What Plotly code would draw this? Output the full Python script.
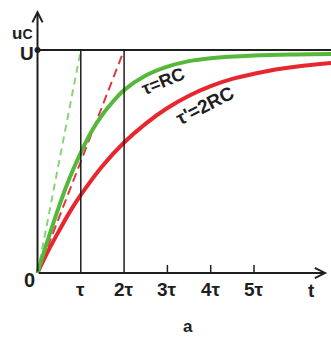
import plotly.graph_objects as go

# ---- data, time in units of tau, voltage in units of U ----
green_t = [0, 0.25, 0.5, 0.75, 1.0, 1.25, 1.5, 1.75, 2.0, 2.5, 3.0, 3.5, 4.0, 5.0, 6.0, 6.8]
green_u = [0, 0.155, 0.30, 0.43, 0.54, 0.635, 0.71, 0.77, 0.82, 0.885, 0.925, 0.95, 0.963, 0.975, 0.98, 0.982]

red_t = [0, 0.25, 0.5, 0.75, 1.0, 1.5, 2.0, 2.5, 3.0, 3.5, 4.0, 4.5, 5.0, 5.5, 6.0, 6.8]
red_u = [0, 0.10, 0.19, 0.275, 0.35, 0.48, 0.585, 0.67, 0.74, 0.795, 0.838, 0.87, 0.893, 0.912, 0.926, 0.942]

green_tangent_t = [0, 1]
green_tangent_u = [0, 1]
red_tangent_t = [0, 2]
red_tangent_u = [0, 1]

tick_vals = [1, 2, 3, 4, 5]
tick_labels = ["τ", "2τ", "3τ", "4τ", "5τ"]
guide_vals = [1, 2]          # full vertical lines at tau and 2 tau
small_tick_vals = [3, 4, 5]  # short ticks
U_level = 1.0

GREEN = "#55b83a"
GREEN_D = "#8cd27a"
RED = "#e8262f"
RED_D = "#dc3a48"
INK = "#1e1e1e"
FONT = "Liberation Sans"

X_MIN, X_MAX = -0.866, 6.778
Y_MIN, Y_MAX = -0.287, 1.224

fig = go.Figure()

# dashed tangents
fig.add_trace(go.Scatter(x=green_tangent_t, y=green_tangent_u, mode="lines",
                         line=dict(color=GREEN_D, width=2, dash="7px,5px")))
fig.add_trace(go.Scatter(x=red_tangent_t, y=red_tangent_u, mode="lines",
                         line=dict(color=RED_D, width=2, dash="9px,5px")))
# curves
fig.add_trace(go.Scatter(x=red_t, y=red_u, mode="lines", line=dict(color=RED, width=4, shape="spline")))
fig.add_trace(go.Scatter(x=green_t, y=green_u, mode="lines", line=dict(color=GREEN, width=4, shape="spline")))

# U level line
fig.add_trace(go.Scatter(x=[0, X_MAX], y=[U_level, U_level], mode="lines", line=dict(color=INK, width=2)))
# vertical guides
for v in guide_vals:
    fig.add_trace(go.Scatter(x=[v, v], y=[0, U_level], mode="lines", line=dict(color=INK, width=1.5)))
for v in small_tick_vals:
    fig.add_trace(go.Scatter(x=[v, v], y=[0, 0.036], mode="lines", line=dict(color=INK, width=1.5)))
# dot at U on the axis
fig.add_trace(go.Scatter(x=[0], y=[U_level], mode="markers", marker=dict(color=INK, size=6)))

# axes with arrowheads
fig.add_annotation(x=6.69, y=0, ax=0, ay=0, axref="x", ayref="y", xref="x", yref="y",
                   text="", showarrow=True, arrowhead=5, arrowwidth=2, arrowsize=1, arrowcolor=INK)
fig.add_annotation(x=0, y=1.179, ax=0, ay=0, axref="x", ayref="y", xref="x", yref="y",
                   text="", showarrow=True, arrowhead=5, arrowwidth=2, arrowsize=1, arrowcolor=INK)

def label(x, y, text, size=17, angle=0):
    fig.add_annotation(x=x, y=y, xref="x", yref="y", text=text, showarrow=False,
                       textangle=angle, font=dict(family=FONT, size=size, color=INK),
                       xanchor="center", yanchor="middle")

for v, t in zip(tick_vals, tick_labels):
    label(v, -0.076, "<b>%s</b>" % t, 19)
label(6.33, -0.080, "<b>t</b>", 19)
label(-0.19, -0.032, "<b>0</b>", 20)
label(-0.25, 0.985, "<b>U</b>", 19)
label(-0.35, 1.075, "<b>u<span style='font-size:14px'>C</span></b>", 17)
label(3.476, -0.238, "<b>a</b>", 17)
label(2.92, 0.86, "<b>τ=RC</b>", 18, -22)
label(3.87, 0.75, "<b>τ'=2RC</b>", 19, -27)

fig.update_layout(
    width=331, height=337, margin=dict(l=0, r=0, t=0, b=0),
    paper_bgcolor="white", plot_bgcolor="white", showlegend=False,
    xaxis=dict(range=[X_MIN, X_MAX], visible=False),
    yaxis=dict(range=[Y_MIN, Y_MAX], visible=False),
)
fig.write_html("out.html", config={"displayModeBar": False},
               post_script="document.body.style.margin='0';document.body.style.padding='0';document.body.style.overflow='hidden';")
